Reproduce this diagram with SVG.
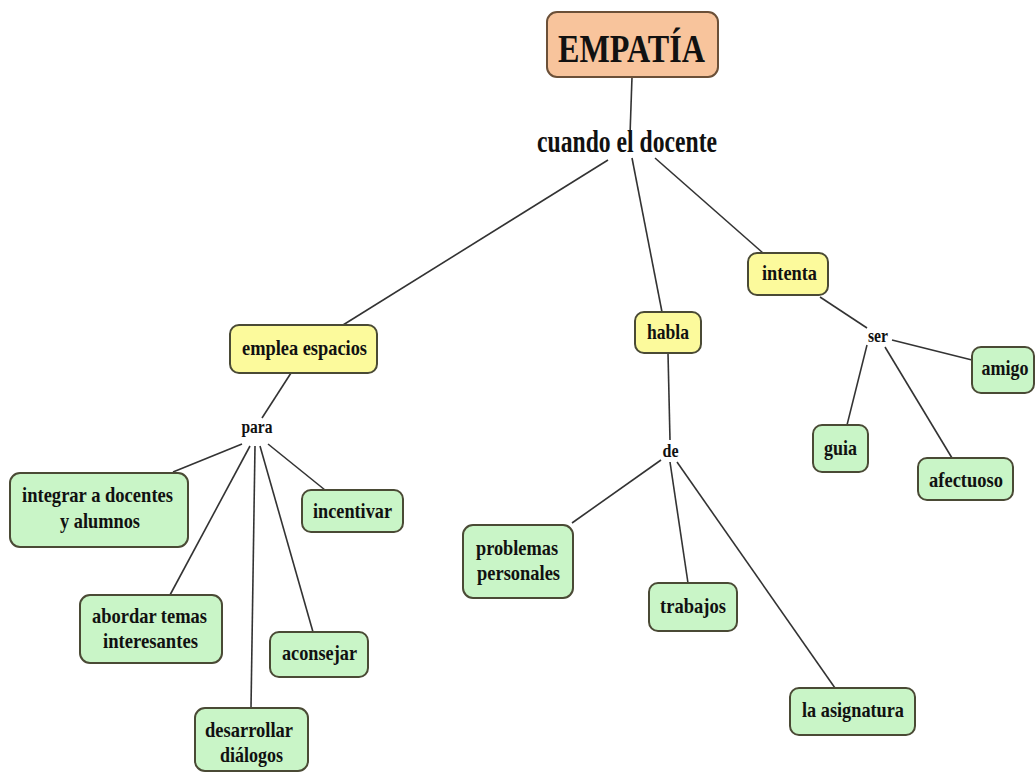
<svg xmlns="http://www.w3.org/2000/svg" width="1036" height="776" viewBox="0 0 1036 776">
<style>
.bx{stroke:#4a4a35;stroke-width:2}
.root{fill:#f8c49c;stroke:#6b5038;stroke-width:2}
.lk{fill:#fcfa9c}
.cn{fill:#c9f5c7}
text{font-family:"Liberation Serif","Times New Roman",serif;font-weight:bold;fill:#111;text-anchor:middle}
.t{font-size:21px}
.s{font-size:18px}
#connectors line{stroke:#333;stroke-width:1.6}
</style>
<rect width="1036" height="776" fill="#ffffff"/>
<g id="connectors">
<line x1="632" y1="77" x2="630" y2="135"/>
<line x1="608" y1="160" x2="343" y2="325"/>
<line x1="632" y1="158" x2="662" y2="312"/>
<line x1="655" y1="158" x2="763" y2="253"/>
<line x1="291" y1="373" x2="262" y2="418"/>
<line x1="242" y1="444" x2="173" y2="472"/>
<line x1="268" y1="444" x2="325" y2="490"/>
<line x1="250" y1="446" x2="170" y2="595"/>
<line x1="260" y1="446" x2="313" y2="632"/>
<line x1="255" y1="446" x2="251" y2="708"/>
<line x1="668" y1="353" x2="670" y2="440"/>
<line x1="661" y1="460" x2="572" y2="523"/>
<line x1="670" y1="462" x2="688" y2="583"/>
<line x1="677" y1="462" x2="835" y2="688"/>
<line x1="820" y1="297" x2="867" y2="328"/>
<line x1="892" y1="340" x2="972" y2="360"/>
<line x1="867" y1="345" x2="847" y2="425"/>
<line x1="885" y1="347" x2="952" y2="458"/>
</g>
<g id="empatia"><rect class="root" x="547" y="12" width="171" height="65" rx="10"/><text x="631.5" y="62" font-size="41" textLength="147" lengthAdjust="spacingAndGlyphs">EMPATÍA</text></g>
<g id="cuando"><text x="627" y="152" font-size="31" textLength="180" lengthAdjust="spacingAndGlyphs">cuando el docente</text></g>
<g id="emplea"><rect class="bx lk" x="230" y="325" width="147" height="48" rx="9"/><text class="t" x="304.5" y="355" textLength="125" lengthAdjust="spacingAndGlyphs">emplea espacios</text></g>
<g id="para"><text class="s" x="257" y="433" textLength="31" lengthAdjust="spacingAndGlyphs">para</text></g>
<g id="integrar"><rect class="bx cn" x="10" y="473" width="178" height="74" rx="10"/><text class="t" x="97.5" y="502" textLength="151" lengthAdjust="spacingAndGlyphs">integrar a docentes</text><text class="t" x="100" y="528" textLength="80" lengthAdjust="spacingAndGlyphs">y alumnos</text></g>
<g id="incentivar"><rect class="bx cn" x="302" y="490" width="101" height="42" rx="9"/><text class="t" x="352.5" y="518" textLength="79" lengthAdjust="spacingAndGlyphs">incentivar</text></g>
<g id="abordar"><rect class="bx cn" x="80" y="595" width="142" height="68" rx="10"/><text class="t" x="149.5" y="623" textLength="115" lengthAdjust="spacingAndGlyphs">abordar temas</text><text class="t" x="150.5" y="648" textLength="95" lengthAdjust="spacingAndGlyphs">interesantes</text></g>
<g id="aconsejar"><rect class="bx cn" x="270" y="632" width="98" height="45" rx="9"/><text class="t" x="319.5" y="660" textLength="75" lengthAdjust="spacingAndGlyphs">aconsejar</text></g>
<g id="desarrollar"><rect class="bx cn" x="195" y="708" width="113" height="63" rx="10"/><text class="t" x="249" y="737" textLength="88" lengthAdjust="spacingAndGlyphs">desarrollar</text><text class="t" x="251.5" y="762" textLength="63" lengthAdjust="spacingAndGlyphs">diálogos</text></g>
<g id="habla"><rect class="bx lk" x="635" y="312" width="66" height="41" rx="9"/><text class="t" x="668" y="339" textLength="42" lengthAdjust="spacingAndGlyphs">habla</text></g>
<g id="de"><text class="s" x="670.5" y="457" textLength="16" lengthAdjust="spacingAndGlyphs">de</text></g>
<g id="problemas"><rect class="bx cn" x="463" y="525" width="110" height="73" rx="10"/><text class="t" x="517" y="555" textLength="82" lengthAdjust="spacingAndGlyphs">problemas</text><text class="t" x="518.5" y="580" textLength="83" lengthAdjust="spacingAndGlyphs">personales</text></g>
<g id="trabajos"><rect class="bx cn" x="649" y="583" width="88" height="48" rx="9"/><text class="t" x="693" y="613" textLength="66" lengthAdjust="spacingAndGlyphs">trabajos</text></g>
<g id="asignatura"><rect class="bx cn" x="790" y="688" width="125" height="47" rx="9"/><text class="t" x="853" y="717" textLength="102" lengthAdjust="spacingAndGlyphs">la asignatura</text></g>
<g id="intenta"><rect class="bx lk" x="748" y="253" width="80" height="42" rx="9"/><text class="t" x="789.5" y="280" textLength="55" lengthAdjust="spacingAndGlyphs">intenta</text></g>
<g id="ser"><text class="s" x="878" y="342" textLength="20" lengthAdjust="spacingAndGlyphs">ser</text></g>
<g id="amigo"><rect class="bx cn" x="972" y="347" width="62" height="46" rx="9"/><text class="t" x="1005" y="375" textLength="47" lengthAdjust="spacingAndGlyphs">amigo</text></g>
<g id="guia"><rect class="bx cn" x="813" y="425" width="55" height="47" rx="9"/><text class="t" x="840.5" y="455" textLength="33" lengthAdjust="spacingAndGlyphs">guia</text></g>
<g id="afectuoso"><rect class="bx cn" x="918" y="458" width="95" height="42" rx="9"/><text class="t" x="966" y="487" textLength="74" lengthAdjust="spacingAndGlyphs">afectuoso</text></g>
</svg>
